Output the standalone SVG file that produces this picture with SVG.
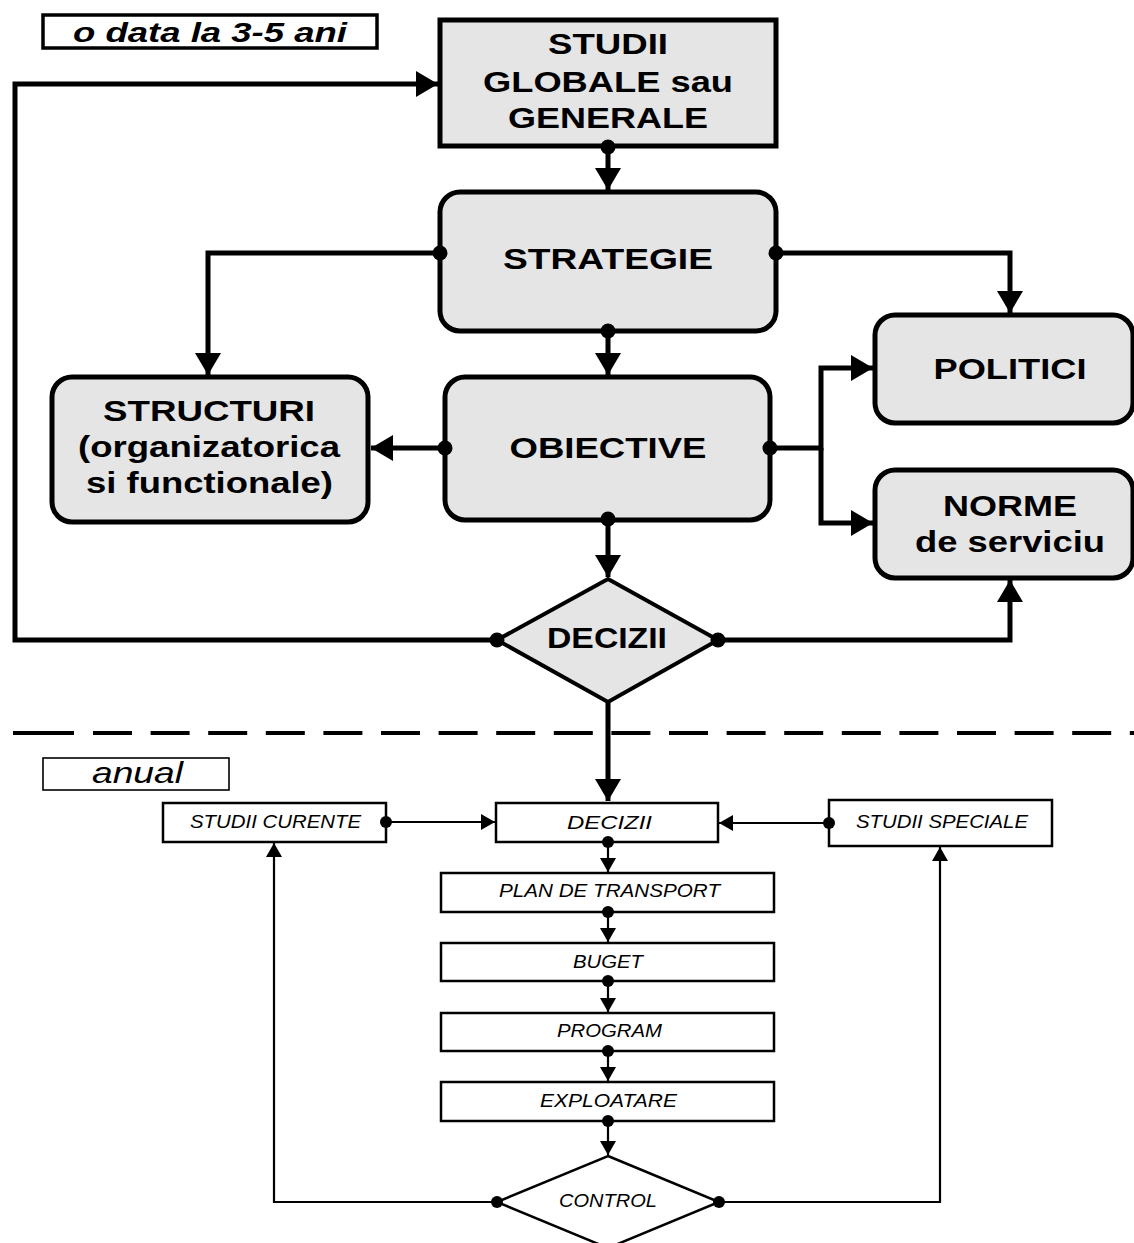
<svg xmlns="http://www.w3.org/2000/svg" width="1134" height="1243" viewBox="0 0 1134 1243">
  <defs>
    <style>
      .bx { fill: #e5e5e5; stroke: #000; stroke-width: 5; }
      .dm { fill: #e5e5e5; stroke: #000; stroke-width: 4; stroke-linejoin: miter; }
      .sm { fill: #fff; stroke: #000; stroke-width: 2.5; }
      .tag { fill: #fff; stroke: #000; }
      .big { font-family: "Liberation Sans", Arial, sans-serif; font-weight: bold; font-size: 29px; text-anchor: middle; fill: #000; }
      .lbl { font-family: "Liberation Sans", Arial, sans-serif; font-style: italic; font-size: 17.5px; text-anchor: middle; fill: #000; }
      .thick { fill: none; stroke: #000; stroke-width: 5; stroke-linejoin: miter; }
      .thin { fill: none; stroke: #000; stroke-width: 2.2; stroke-linejoin: miter; }
    </style>
    <marker id="ahBig" markerUnits="userSpaceOnUse" markerWidth="22" markerHeight="26" refX="22" refY="13" orient="auto">
      <path d="M0,0 L22,13 L0,26 z" fill="#000"/>
    </marker>
    <marker id="ahSmall" markerUnits="userSpaceOnUse" markerWidth="14" markerHeight="16" refX="14" refY="8" orient="auto">
      <path d="M0,0 L14,8 L0,16 z" fill="#000"/>
    </marker>
    <marker id="dotBig" markerUnits="userSpaceOnUse" markerWidth="18" markerHeight="18" refX="9" refY="9" orient="auto">
      <circle cx="9" cy="9" r="7.5" fill="#000"/>
    </marker>
    <marker id="dotSmall" markerUnits="userSpaceOnUse" markerWidth="14" markerHeight="14" refX="7" refY="7" orient="auto">
      <circle cx="7" cy="7" r="6" fill="#000"/>
    </marker>
  </defs>

  <rect width="1134" height="1243" fill="#fff"/>

  <!-- period tags -->
  <g id="tag-multi-year">
    <rect class="tag" x="43" y="15" width="334" height="33" stroke-width="3.5"/>
    <text x="210" y="42" font-family="Liberation Sans, Arial, sans-serif" font-weight="bold" font-style="italic" font-size="28" text-anchor="middle" textLength="274" lengthAdjust="spacingAndGlyphs">o data la 3-5 ani</text>
  </g>
  <g id="tag-annual">
    <rect class="tag" x="43" y="758" width="186" height="32" stroke-width="1.6"/>
    <text x="137.5" y="783" font-family="Liberation Sans, Arial, sans-serif" font-style="italic" font-size="29" text-anchor="middle" textLength="91" lengthAdjust="spacingAndGlyphs">anual</text>
  </g>

  <!-- separator between the two planning horizons -->
  <g id="separator" stroke="#000" stroke-width="4" fill="none">
    <path d="M13,733 H74"/>
    <path d="M93,733 H1134" stroke-dasharray="39 18.6"/>
  </g>

  <!-- strategic level -->
  <g id="studii-globale">
    <rect class="bx" x="440" y="20" width="336" height="126"/>
    <text class="big" x="608" y="54" textLength="120" lengthAdjust="spacingAndGlyphs">STUDII</text>
    <text class="big" x="608" y="92" textLength="250" lengthAdjust="spacingAndGlyphs">GLOBALE sau</text>
    <text class="big" x="608" y="128" textLength="200" lengthAdjust="spacingAndGlyphs">GENERALE</text>
  </g>
  <g id="strategie">
    <rect class="bx" x="440" y="192" width="336" height="139" rx="20"/>
    <text class="big" x="608" y="269" textLength="210" lengthAdjust="spacingAndGlyphs">STRATEGIE</text>
  </g>
  <g id="structuri">
    <rect class="bx" x="52" y="377" width="316" height="145" rx="20"/>
    <text class="big" x="209" y="421" textLength="212" lengthAdjust="spacingAndGlyphs">STRUCTURI</text>
    <text class="big" x="209" y="457" textLength="262" lengthAdjust="spacingAndGlyphs">(organizatorica</text>
    <text class="big" x="209.5" y="493" textLength="247" lengthAdjust="spacingAndGlyphs">si functionale)</text>
  </g>
  <g id="obiective">
    <rect class="bx" x="445" y="377" width="325" height="143" rx="20"/>
    <text class="big" x="608" y="458" textLength="197" lengthAdjust="spacingAndGlyphs">OBIECTIVE</text>
  </g>
  <g id="politici">
    <rect class="bx" x="875" y="315" width="258" height="108" rx="20"/>
    <text class="big" x="1010" y="379" textLength="153" lengthAdjust="spacingAndGlyphs">POLITICI</text>
  </g>
  <g id="norme">
    <rect class="bx" x="875" y="470" width="258" height="108" rx="20"/>
    <text class="big" x="1010" y="516" textLength="134" lengthAdjust="spacingAndGlyphs">NORME</text>
    <text class="big" x="1010" y="552" textLength="190" lengthAdjust="spacingAndGlyphs">de serviciu</text>
  </g>
  <g id="decizii-strategice">
    <polygon class="dm" points="608,579 718,640 608,702 497,640"/>
    <text class="big" x="607" y="648" textLength="120" lengthAdjust="spacingAndGlyphs">DECIZII</text>
  </g>

  <!-- annual level -->
  <g id="studii-curente">
    <rect class="sm" x="163" y="803" width="223" height="39"/>
    <text class="lbl" x="275.5" y="828" font-size="17" textLength="171" lengthAdjust="spacingAndGlyphs">STUDII CURENTE</text>
  </g>
  <g id="decizii-anuale">
    <rect class="sm" x="496" y="803" width="222" height="39"/>
    <text class="lbl" x="609.5" y="829" font-size="20" textLength="85" lengthAdjust="spacingAndGlyphs">DECIZII</text>
  </g>
  <g id="studii-speciale">
    <rect class="sm" x="829" y="800" width="223" height="46"/>
    <text class="lbl" x="942" y="828" font-size="17" textLength="172" lengthAdjust="spacingAndGlyphs">STUDII SPECIALE</text>
  </g>
  <g id="plan-transport">
    <rect class="sm" x="441" y="873" width="333" height="39"/>
    <text class="lbl" x="609.5" y="897" textLength="221" lengthAdjust="spacingAndGlyphs">PLAN DE TRANSPORT</text>
  </g>
  <g id="buget">
    <rect class="sm" x="441" y="943" width="333" height="38"/>
    <text class="lbl" x="608" y="968" textLength="70" lengthAdjust="spacingAndGlyphs">BUGET</text>
  </g>
  <g id="program">
    <rect class="sm" x="441" y="1013" width="333" height="38"/>
    <text class="lbl" x="609.5" y="1037" textLength="105" lengthAdjust="spacingAndGlyphs">PROGRAM</text>
  </g>
  <g id="exploatare">
    <rect class="sm" x="441" y="1082" width="333" height="39"/>
    <text class="lbl" x="608.5" y="1107" textLength="137" lengthAdjust="spacingAndGlyphs">EXPLOATARE</text>
  </g>
  <g id="control">
    <polygon class="sm" points="608,1156 719,1202 608,1248 497,1202"/>
    <text class="lbl" x="608" y="1207" textLength="98" lengthAdjust="spacingAndGlyphs">CONTROL</text>
  </g>

  <!-- connectors, drawn over the node outlines so the junction dots stay whole -->
  <g id="connectors">
    <path class="thick" d="M608,147 V190" marker-start="url(#dotBig)" marker-end="url(#ahBig)"/>
    <path class="thick" d="M440,253 H208 V375" marker-start="url(#dotBig)" marker-end="url(#ahBig)"/>
    <path class="thick" d="M776,253 H1010 V313" marker-start="url(#dotBig)" marker-end="url(#ahBig)"/>
    <path class="thick" d="M608,331 V375" marker-start="url(#dotBig)" marker-end="url(#ahBig)"/>
    <path class="thick" d="M445,448 H371" marker-start="url(#dotBig)" marker-end="url(#ahBig)"/>
    <path class="thick" d="M770,448 H821 V368 H873" marker-start="url(#dotBig)" marker-end="url(#ahBig)"/>
    <path class="thick" d="M821,448 V523 H873" marker-end="url(#ahBig)"/>
    <path class="thick" d="M608,519 V577" marker-start="url(#dotBig)" marker-end="url(#ahBig)"/>
    <path class="thick" d="M497,640 H15 V84 H438" marker-start="url(#dotBig)" marker-end="url(#ahBig)"/>
    <path class="thick" d="M718,640 H1010 V580" marker-start="url(#dotBig)" marker-end="url(#ahBig)"/>
    <path class="thick" d="M608,702 V801" marker-end="url(#ahBig)"/>

    <path class="thin" d="M386,822 H495" marker-start="url(#dotSmall)" marker-end="url(#ahSmall)"/>
    <path class="thin" d="M829,823 H719" marker-start="url(#dotSmall)" marker-end="url(#ahSmall)"/>
    <path class="thin" d="M608,842 V872" marker-start="url(#dotSmall)" marker-end="url(#ahSmall)"/>
    <path class="thin" d="M608,912 V942" marker-start="url(#dotSmall)" marker-end="url(#ahSmall)"/>
    <path class="thin" d="M608,981 V1012" marker-start="url(#dotSmall)" marker-end="url(#ahSmall)"/>
    <path class="thin" d="M608,1051 V1081" marker-start="url(#dotSmall)" marker-end="url(#ahSmall)"/>
    <path class="thin" d="M608,1121 V1155" marker-start="url(#dotSmall)" marker-end="url(#ahSmall)"/>
    <path class="thin" d="M497,1202 H274 V843" marker-start="url(#dotSmall)" marker-end="url(#ahSmall)"/>
    <path class="thin" d="M719,1202 H940 V847" marker-start="url(#dotSmall)" marker-end="url(#ahSmall)"/>
  </g>
</svg>
